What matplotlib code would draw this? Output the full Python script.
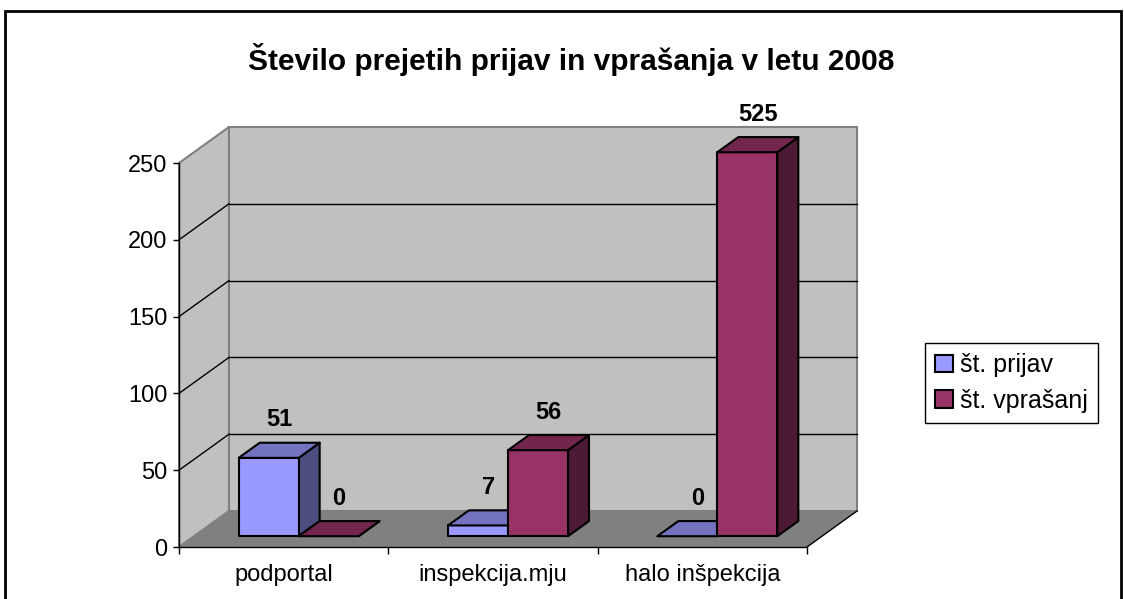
import matplotlib
matplotlib.use('Agg')
import matplotlib.pyplot as plt
from matplotlib.patches import Polygon, Rectangle, Patch

plt.rcParams['font.family'] = ['Liberation Sans', 'DejaVu Sans']

# ---------------- data ----------------
title = 'Število prejetih prijav in vprašanja v letu 2008'
categories = ['podportal', 'inspekcija.mju', 'halo inšpekcija']
series_names = ['št. prijav', 'št. vprašanj']
prijav = [51, 7, 0]
vprasanj = [0, 56, 525]
y_ticks = [0, 50, 100, 150, 200, 250]

# ---------------- style ----------------
front_cols = ['#9999FF', '#993366']
top_cols = ['#7373BF', '#73264D']
side_cols = ['#4D4D80', '#4D1A33']
wall_col = '#C0C0C0'
floor_col = '#808080'
edge_wall = '#808080'

W, H, DPI = 1124, 599, 100
fig = plt.figure(figsize=(W / DPI, H / DPI), dpi=DPI)

# front plane in pixels
x_left, x_right, y_bot, y_top = 179, 807, 547, 163
ax = fig.add_axes([x_left / W, 1 - y_bot / H, (x_right - x_left) / W, (y_bot - y_top) / H])
ymax = y_ticks[-1]
ncat = len(categories)
ax.set_xlim(0, ncat)
ax.set_ylim(0, ymax)
ax.set_facecolor('none')

# depth offsets (data units)
px_per_cat = (x_right - x_left) / ncat
px_per_val = (y_bot - y_top) / ymax
DX = 50 / px_per_cat
DY = 36 / px_per_val


def P(x, y, d):
    return (x + d * DX, y + d * DY)


# walls
ax.add_patch(Polygon([P(0, 0, 0), P(0, 0, 1), P(0, ymax, 1), P(0, ymax, 0)],
                     closed=True, facecolor=wall_col, edgecolor=edge_wall, lw=1.5,
                     zorder=0.5, clip_on=False))
ax.add_patch(Polygon([P(0, 0, 1), P(ncat, 0, 1), P(ncat, ymax, 1), P(0, ymax, 1)],
                     closed=True, facecolor=wall_col, edgecolor=edge_wall, lw=1.5,
                     zorder=0.5, clip_on=False))
# gridlines
for v in y_ticks[1:-1]:
    ax.plot([P(0, v, 1)[0], P(ncat, v, 1)[0]], [P(0, v, 1)[1], P(ncat, v, 1)[1]],
            color='black', lw=1, zorder=0.6, clip_on=False)
    ax.plot([P(0, v, 0)[0], P(0, v, 1)[0]], [P(0, v, 0)[1], P(0, v, 1)[1]],
            color='black', lw=1, zorder=0.6, clip_on=False)
# floor
ax.add_patch(Polygon([P(0, 0, 0), P(ncat, 0, 0), P(ncat, 0, 1), P(0, 0, 1)],
                     closed=True, facecolor=floor_col, edgecolor='none',
                     zorder=0.7, clip_on=False))
ax.plot([P(ncat, 0, 0)[0], P(ncat, 0, 1)[0]], [P(ncat, 0, 0)[1], P(ncat, 0, 1)[1]],
        color='black', lw=1, zorder=0.8, clip_on=False)

# bars
bw = 60 / px_per_cat
d0, d1 = 0.30, 0.72
dm = (d0 + d1) / 2
series = [prijav, vprasanj]
for i in range(ncat):
    for s, vals in enumerate(series):
        v = vals[i]
        h = min(v, ymax)
        xa = i + 0.5 - bw + s * bw
        xb = xa + bw
        z = 2 + i * 2 + s * 0.5
        side = [P(xb, 0, d0), P(xb, 0, d1), P(xb, h, d1), P(xb, h, d0)]
        front = [P(xa, 0, d0), P(xb, 0, d0), P(xb, h, d0), P(xa, h, d0)]
        top = [P(xa, h, d0), P(xb, h, d0), P(xb, h, d1), P(xa, h, d1)]
        for pts, col in ((side, side_cols[s]), (front, front_cols[s]), (top, top_cols[s])):
            ax.add_patch(Polygon(pts, closed=True, facecolor=col, edgecolor='black',
                                 lw=1.5, joinstyle='round', zorder=z, clip_on=False))
        ax.annotate(str(v), xy=P(xa + bw / 2, h, dm), xytext=(0, 22),
                    textcoords='offset points', ha='center', va='center',
                    fontsize=17, fontweight='bold', zorder=10, annotation_clip=False)

# axes / ticks
for sname in ['top', 'right']:
    ax.spines[sname].set_visible(False)
for sname in ['left', 'bottom']:
    ax.spines[sname].set_color('black')
    ax.spines[sname].set_linewidth(1)
    ax.spines[sname].set_zorder(1)
ax.set_yticks(y_ticks)
ax.set_yticklabels([str(t) for t in y_ticks])
ax.tick_params(axis='y', direction='out', length=4.5, width=1, labelsize=17, pad=4)
ax.set_xticks(range(ncat + 1))
ax.set_xticklabels([])
ax.set_xticks([i + 0.5 for i in range(ncat)], minor=True)
ax.set_xticklabels(categories, minor=True)
ax.tick_params(axis='x', which='major', direction='out', length=5, width=1)
ax.tick_params(axis='x', which='minor', length=0, pad=12, labelsize=17)

# title
fig.text(571 / W, 1 - 60 / H, title, ha='center', va='center',
         fontsize=21.5, fontweight='bold')

# legend
handles = [Patch(facecolor=front_cols[k], edgecolor='black', lw=1.5) for k in range(2)]
leg = fig.legend(handles, series_names, loc='center left',
                 bbox_to_anchor=(925 / W, 1 - 383 / H), fontsize=18,
                 frameon=True, fancybox=False, edgecolor='black', framealpha=1,
                 handlelength=0.7, handleheight=0.7, handletextpad=0.3,
                 borderpad=0.4, labelspacing=0.45, borderaxespad=0)
leg.get_frame().set_linewidth(1)

# outer chart border
fig.add_artist(Rectangle((5 / W, -0.05), (1121 - 5) / W, 1.05 - 11 / H,
                         transform=fig.transFigure, facecolor='none',
                         edgecolor='black', lw=2, clip_on=False))

fig.savefig('out.png', dpi=DPI)
